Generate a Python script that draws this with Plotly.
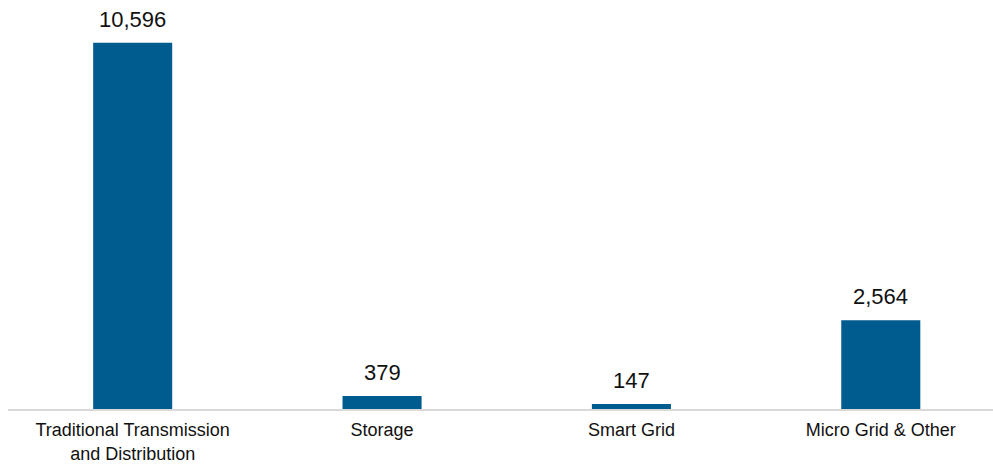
import plotly.graph_objects as go

# Investment by segment
categories = [
    "Traditional Transmission<br>and Distribution",
    "Storage",
    "Smart Grid",
    "Micro Grid & Other",
]
values = [10596, 379, 147, 2564]
value_labels = ["10,596", "379", "147", "2,564"]

bar_color = "#005b8f"
font_family = "Liberation Sans, Arial, sans-serif"

fig = go.Figure()
fig.add_trace(
    go.Bar(
        x=list(range(len(categories))),
        y=values,
        marker=dict(color=bar_color, line=dict(width=0)),
        hoverinfo="skip",
    )
)

# Value labels above each bar
for i, (v, lab) in enumerate(zip(values, value_labels)):
    fig.add_annotation(
        x=i, y=v, text=lab, showarrow=False,
        yanchor="bottom", yshift=9,
        font=dict(family=font_family, size=22, color="#111111"),
    )

fig.update_layout(
    width=993,
    height=466,
    margin=dict(l=8, r=0, t=20, b=57, autoexpand=False),
    paper_bgcolor="white",
    plot_bgcolor="white",
    bargap=0.683,
    showlegend=False,
    xaxis=dict(
        tickmode="array",
        tickvals=list(range(len(categories))),
        ticktext=categories,
        range=[-0.5, 3.45],
        showgrid=False,
        zeroline=False,
        showline=True,
        linecolor="#d9d9d9",
        linewidth=1.5,
        ticks="",
        ticklabelstandoff=4,
        automargin=False,
        tickfont=dict(family=font_family, size=18, color="#111111"),
        fixedrange=True,
    ),
    yaxis=dict(
        range=[0, 11253],
        visible=False,
        showgrid=False,
        zeroline=False,
        automargin=False,
        fixedrange=True,
    ),
)

fig.write_html("out.html", config={"displayModeBar": False})
